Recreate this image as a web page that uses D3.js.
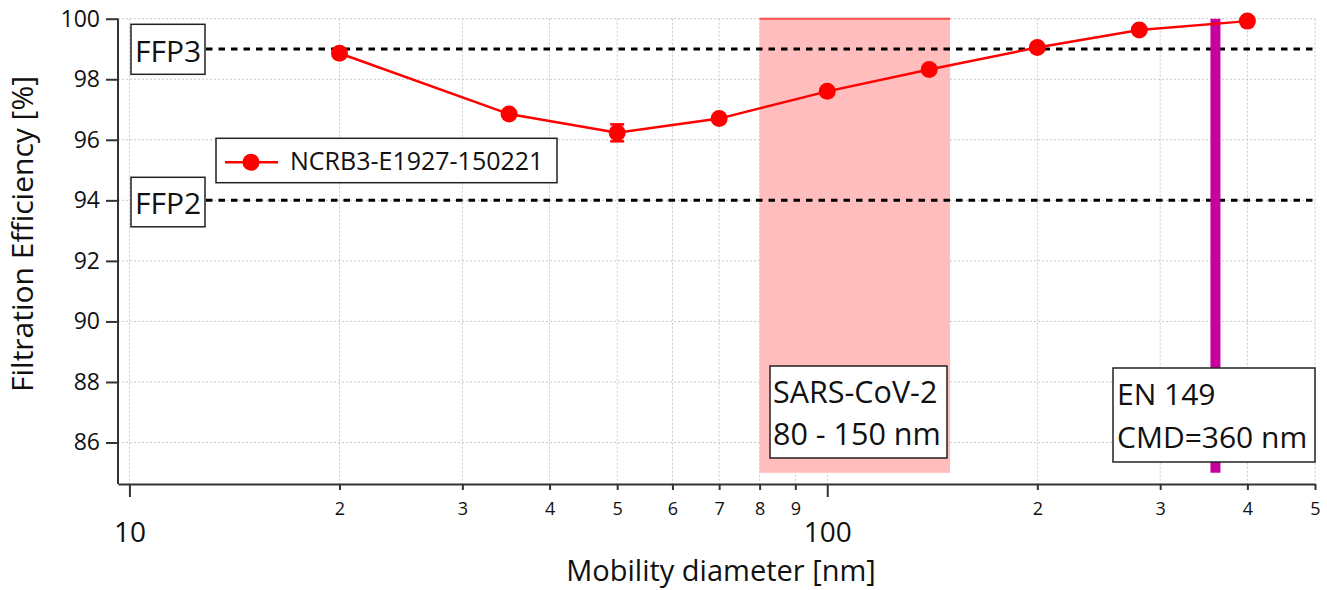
<!DOCTYPE html>
<html>
<head>
<meta charset="utf-8">
<script src="https://cdn.jsdelivr.net/npm/d3@7"></script>
<style>
  body { margin: 0; background: #fff; }
  svg text { font-family: "Open Sans", sans-serif; fill: #111; }
</style>
</head>
<body>
<div id="vis"></div>
<script>
// 数据：粒径 (nm) 与过滤效率 (%)
const diameters = [20, 35, 50, 70, 100, 140, 200, 280, 400];
const efficiency = [98.86, 96.85, 96.23, 96.7, 97.6, 98.32, 99.05, 99.63, 99.92];
const errors = [0, 0, 0.28, 0, 0, 0, 0, 0, 0];
const seriesName = "NCRB3-E1927-150221";

// 刻度
const yTicks = [86, 88, 90, 92, 94, 96, 98, 100];
const xMajorTicks = [10, 100];
const xMinorTicks = [20, 30, 40, 50, 60, 70, 80, 90, 200, 300, 400, 500];
const xMinorLabels = ["2", "3", "4", "5", "6", "7", "8", "9", "2", "3", "4", "5"];

// 标注
const ffpLevels = [99, 94];
const ffpNames = ["FFP3", "FFP2"];
const sarsRange = [80, 150];
const sarsLines = ["SARS-CoV-2", "80 - 150 nm"];
const enCmd = 360;
const enLines = ["EN 149", "CMD=360 nm"];
const bandY = [85, 100];

const W = 1327, H = 590;
const plotL = 118, plotR = 1315, plotT = 18.7, plotB = 484;

const svg = d3.select("#vis").append("svg")
    .attr("width", W)
    .attr("height", H);

const x = d3.scaleLog().domain([9.63, 500]).range([plotL, plotR]);
const y = d3.scaleLinear().domain([84.63, 100]).range([plotB, plotT]);

// 网格线
const grid = svg.append("g")
    .attr("stroke", "#c8c8c8")
    .attr("stroke-width", 1)
    .attr("stroke-dasharray", "2,2");
grid.selectAll(".vg")
    .data(xMajorTicks.concat(xMinorTicks))
  .enter().append("line")
    .attr("x1", d => x(d)).attr("x2", d => x(d))
    .attr("y1", plotT).attr("y2", plotB);
grid.selectAll(".hg")
    .data(yTicks)
  .enter().append("line")
    .attr("x1", plotL).attr("x2", plotR)
    .attr("y1", d => y(d)).attr("y2", d => y(d));

// SARS-CoV-2 粒径范围
svg.append("rect")
    .attr("x", x(sarsRange[0]))
    .attr("width", x(sarsRange[1]) - x(sarsRange[0]))
    .attr("y", y(bandY[1]))
    .attr("height", y(bandY[0]) - y(bandY[1]))
    .attr("fill", "#ffbdbd");
svg.append("line")
    .attr("x1", x(sarsRange[0])).attr("x2", x(sarsRange[1]))
    .attr("y1", y(bandY[1])).attr("y2", y(bandY[1]))
    .attr("stroke", "#ff4d4d")
    .attr("stroke-width", 2);

// FFP 虚线
svg.selectAll(".ffp")
    .data(ffpLevels)
  .enter().append("line")
    .attr("x1", 206).attr("x2", plotR)
    .attr("y1", d => y(d)).attr("y2", d => y(d))
    .attr("stroke", "#000")
    .attr("stroke-width", 3)
    .attr("stroke-dasharray", "6.5,6");

// EN 149 CMD 线
svg.append("line")
    .attr("x1", x(enCmd)).attr("x2", x(enCmd))
    .attr("y1", y(bandY[1])).attr("y2", y(bandY[0]))
    .attr("stroke", "#c8009f")
    .attr("stroke-width", 10);

// 坐标轴
const yAxis = svg.append("g")
    .attr("transform", "translate(" + plotL + ",0)")
    .call(d3.axisLeft(y).tickValues(yTicks).tickSize(12).tickSizeOuter(0).tickPadding(6));
yAxis.select(".domain").attr("d", "M0," + plotT + "V" + plotB);
yAxis.selectAll("text").style("font-size", "23px");

const xMajor = svg.append("g")
    .attr("transform", "translate(0," + plotB + ")")
    .call(d3.axisBottom(x).tickValues(xMajorTicks).tickSize(13).tickSizeOuter(0).tickPadding(25)
        .tickFormat(d3.format("d")));
xMajor.selectAll("text").style("font-size", "28px");

const xMinor = svg.append("g")
    .attr("transform", "translate(0," + plotB + ")")
    .call(d3.axisBottom(x).tickValues(xMinorTicks).tickSize(6).tickSizeOuter(0).tickPadding(12)
        .tickFormat((d, i) => xMinorLabels[i]));
xMinor.select(".domain").remove();
xMinor.selectAll("text").style("font-size", "18px");

svg.selectAll(".domain, .tick line")
    .attr("stroke", "#333")
    .attr("stroke-width", 2);

// 轴标题
svg.append("text")
    .attr("x", 721)
    .attr("y", 581)
    .attr("text-anchor", "middle")
    .style("font-size", "29px")
    .text("Mobility diameter [nm]");
svg.append("text")
    .attr("transform", "translate(33,234) rotate(-90)")
    .attr("text-anchor", "middle")
    .style("font-size", "30px")
    .text("Filtration Efficiency [%]");

// 数据线与点
const pts = diameters.map((d, i) => ({d: d, v: efficiency[i], e: errors[i]}));
svg.append("path")
    .datum(pts)
    .attr("fill", "none")
    .attr("stroke", "#ff0000")
    .attr("stroke-width", 2.5)
    .attr("d", d3.line().x(p => x(p.d)).y(p => y(p.v)));

const eb = svg.selectAll(".err")
    .data(pts.filter(p => p.e > 0))
  .enter().append("g")
    .attr("stroke", "#ff0000")
    .attr("stroke-width", 2.5);
eb.append("line")
    .attr("x1", p => x(p.d)).attr("x2", p => x(p.d))
    .attr("y1", p => y(p.v + p.e)).attr("y2", p => y(p.v - p.e));
eb.append("line")
    .attr("x1", p => x(p.d) - 7).attr("x2", p => x(p.d) + 7)
    .attr("y1", p => y(p.v + p.e)).attr("y2", p => y(p.v + p.e));
eb.append("line")
    .attr("x1", p => x(p.d) - 7).attr("x2", p => x(p.d) + 7)
    .attr("y1", p => y(p.v - p.e)).attr("y2", p => y(p.v - p.e));

svg.selectAll(".pt")
    .data(pts)
  .enter().append("circle")
    .attr("cx", p => x(p.d))
    .attr("cy", p => y(p.v))
    .attr("r", 8.5)
    .attr("fill", "#ff0000");

// 文本框
function box(x0, y0, w, h) {
    svg.append("rect")
        .attr("x", x0).attr("y", y0)
        .attr("width", w).attr("height", h)
        .attr("fill", "#fff")
        .attr("stroke", "#222")
        .attr("stroke-width", 1.5);
}

box(131, 24.3, 74, 50);
svg.append("text").attr("x", 135).attr("y", 62).style("font-size", "30px").text(ffpNames[0]);
box(131, 177.3, 74, 49.5);
svg.append("text").attr("x", 135).attr("y", 213.5).style("font-size", "30px").text(ffpNames[1]);

box(770, 366, 177, 92);
svg.append("text").attr("x", 773).attr("y", 403).style("font-size", "30.5px").text(sarsLines[0]);
svg.append("text").attr("x", 773).attr("y", 445).style("font-size", "30.5px").text(sarsLines[1]);

box(1113, 368, 202, 94);
svg.append("text").attr("x", 1117).attr("y", 405).style("font-size", "30px").text(enLines[0]);
svg.append("text").attr("x", 1117).attr("y", 448).style("font-size", "30px").text(enLines[1]);

// 图例
box(216, 138.3, 341, 44.4);
svg.append("line")
    .attr("x1", 225).attr("x2", 278)
    .attr("y1", 162.3).attr("y2", 162.3)
    .attr("stroke", "#ff0000")
    .attr("stroke-width", 2.5);
svg.append("circle")
    .attr("cx", 251).attr("cy", 162.3)
    .attr("r", 8.5)
    .attr("fill", "#ff0000");
svg.append("text").attr("x", 290).attr("y", 170).style("font-size", "25px").text(seriesName);
</script>
</body>
</html>
